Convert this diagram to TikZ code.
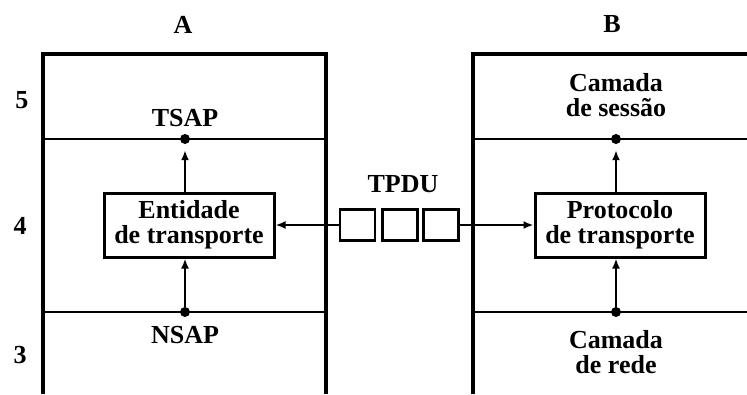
\documentclass[tikz,border=0pt]{standalone}
\usepackage{fontspec}
\setmainfont{Liberation Serif}
\usetikzlibrary{arrows.meta}
\begin{document}
\begin{tikzpicture}[x=1pt,y=-1pt,font=\fontsize{26}{25}\selectfont\bfseries,
  frame/.style={line width=3.5pt,line join=miter},
  layer/.style={line width=2.5pt},
  ent/.style={draw,line width=3pt,minimum width=170pt,minimum height=64pt,inner sep=0pt,align=center},
  pdu/.style={draw,line width=2.5pt,minimum width=35pt,minimum height=31pt,inner sep=0pt},
  sap/.style={circle,fill,inner sep=0pt,minimum size=10pt},
  tip/.style={-{Latex[length=10pt,width=8pt]},line width=2.5pt}]
  \useasboundingbox (0,0) rectangle (747,394);
  % maquina A
  \draw[frame] (43,394) -- (43,54) -- (326,54) -- (326,394);
  \draw[layer] (43,139) -- (326,139) (43,312) -- (326,312);
  \node at (183,25) {A};
  \node at (22,100) {5};
  \node at (20,226) {4};
  \node at (20,355) {3};
  \node (tsap) at (185,118) {TSAP};
  \node (nsap) at (185,335) {NSAP};
  \node[sap] (ta) at (185,139) {};
  \node[sap] (na) at (185,312) {};
  \node[ent] (entidade) at (189,225) {Entidade\\de transporte};
  \draw[tip,shorten >=6pt] (ta |- entidade.north) -- (ta);
  \draw[tip] (na) -- (na |- entidade.south);
  % maquina B
  \draw[frame] (473,394) -- (473,54) -- (747,54);
  \draw[layer] (473,139) -- (747,139) (473,312) -- (747,312);
  \node at (612,24) {B};
  \node[align=center] (sessao) at (616,95) {Camada\\de sessão};
  \node[align=center] (rede) at (616,352) {Camada\\de rede};
  \node[sap] (tb) at (616,139) {};
  \node[sap] (nb) at (616,312) {};
  \node[ent] (protocolo) at (620,225) {Protocolo\\de transporte};
  \draw[tip,shorten >=6pt] (tb |- protocolo.north) -- (tb);
  \draw[tip] (nb) -- (nb |- protocolo.south);
  % TPDUs
  \node[pdu] (q1) at (357.5,225) {};
  \node[pdu] (q2) at (400,225) {};
  \node[pdu] (q3) at (441,225) {};
  \node (tpdu) at (403,184) {TPDU};
  \draw[tip] (q1) -- (entidade);
  \draw[tip] (q3) -- (protocolo);
\end{tikzpicture}
\end{document}
